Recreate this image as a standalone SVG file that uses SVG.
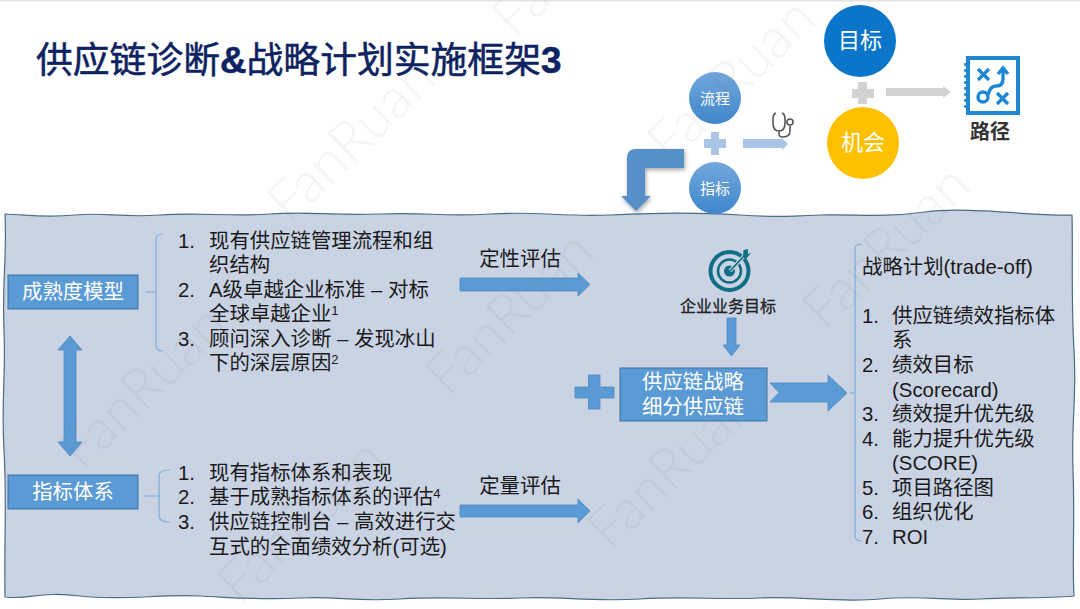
<svg xmlns="http://www.w3.org/2000/svg" width="1080" height="609" viewBox="0 0 1080 609">
<style>
text{font-family:"Liberation Sans","Noto Sans CJK SC",sans-serif}
.l{font-size:20.400px;fill:#1a1a1a}
.w{font-size:20.400px;fill:#fff;text-anchor:middle}
.c{text-anchor:middle}
.box{fill:#5b9bd5;stroke:#41719c;stroke-width:1}
.ar{fill:#5b9bd5;stroke:#4f88bd;stroke-width:.8}
.br{fill:none;stroke:#7eaedb;stroke-width:1.2}
.wm{font-family:"Lato","Liberation Sans",sans-serif;font-size:56px;font-weight:300;fill:#6e6e6e;fill-opacity:.08}
</style>
<defs>
<linearGradient id="cg" x1="0" y1="0" x2="0" y2="1"><stop offset="0" stop-color="#73a7dc"/><stop offset="1" stop-color="#3f87cb"/></linearGradient>
<filter id="sh" x="-20%" y="-20%" width="140%" height="140%"><feGaussianBlur in="SourceAlpha" stdDeviation="2"/><feOffset dx="1" dy="2"/><feComponentTransfer><feFuncA type="linear" slope=".35"/></feComponentTransfer><feMerge><feMergeNode/><feMergeNode in="SourceGraphic"/></feMerge></filter>
</defs>
<rect width="1080" height="609" fill="#fff"/>
<rect width="1080" height="1.500" fill="#e4e4e4"/>
<g id="panel">
<path d="M5 214C30 215 45 218 75 215S120 218 160 215 230 217 270 214 330 216 380 214 440 217 490 214 560 217 610 215 690 212 740 215 780 216 820 215 880 218 925 212 1040 217 1072 215C1073 250 1071 300 1074 350S1071 420 1073 470 1072 560 1074 596C1040 599 1010 597 980 599S920 595 880 599 800 596 760 598 690 596 640 599 560 596 520 598 450 596 400 599 340 596 300 598 240 598 200 596 120 601 80 596 30 600 5 597C4 540 7 500 4 450S6 380 4 330 7 260 5 214Z" fill="#c9d3e4" stroke="#4c6b86" stroke-width="1.200" stroke-linejoin="round"/>
</g>
<text id="title" x="36" y="73" fill="#0d2260" stroke="#0d2260" stroke-width=".5" style="font-size:36.800px">供应链诊断<tspan font-weight="700">&amp;</tspan>战略计划实施框架<tspan font-weight="700">3</tspan></text>
<g id="connectors">
<path class="ar" d="M70 336L82 350H76V442H82L70 456 58 442H64V350H58Z"/>
<path class="ar" d="M460 278H578V273L590 284.500 578 296V291H460Z"/>
<path class="ar" d="M460 505H578V499L590 511 578 523V517H460Z"/>
<path class="ar" d="M727 318H736V345H740L731.500 356 723 345H727Z"/>
<path class="ar" d="M770 383H828V375L847 393 828 411V402H770L779 392.500Z"/>
<path class="br" d="M145 292H155M163 234Q156 234 156 240V345Q156 351 163 351"/>
<path class="br" d="M145 496H158M170 470Q159 470 159 476V516Q159 522 170 522"/>
<path class="br" d="M850 393H855M862 244Q855 244 855 249V536Q855 541 862 541"/>
<path fill="#d2d2d2" d="M886 88H943V86L951 92 943 98V96H886Z"/>
<path fill="#aac4e6" d="M743 139H782V138L788 144 782 150V148H743Z"/>
<path fill="#5590c8" filter="url(#sh)" d="M684 149V168H645V196H651L636 211 621 196H627V158Q627 149 636 149Z"/>
</g>
<g id="n-maturity"><rect class="box" x="8" y="275" width="130" height="34"/><text class="w" x="73" y="299">成熟度模型</text></g>
<g id="n-metrics"><rect class="box" x="8" y="475" width="130" height="34"/><text class="w" x="73" y="499">指标体系</text></g>
<g id="list-1">
<text class="l" x="178" y="248">1.</text><text class="l" x="209" y="248">现有供应链管理流程和组</text>
<text class="l" x="209" y="272">织结构</text>
<text class="l" x="178" y="297">2.</text><text class="l" x="209" y="297">A级卓越企业标准 – 对标</text>
<text class="l" x="209" y="321">全球卓越企业<tspan font-size="13" dy="-6">1</tspan></text>
<text class="l" x="178" y="346">3.</text><text class="l" x="209" y="346">顾问深入诊断 – 发现冰山</text>
<text class="l" x="209" y="370">下的深层原因<tspan font-size="13" dy="-6">2</tspan></text>
</g>
<g id="list-2">
<text class="l" x="178" y="480">1.</text><text class="l" x="209" y="480">现有指标体系和表现</text>
<text class="l" x="178" y="504">2.</text><text class="l" x="209" y="504">基于成熟指标体系的评估<tspan font-size="13" dy="-6">4</tspan></text>
<text class="l" x="178" y="529">3.</text><text class="l" x="209" y="529">供应链控制台 – 高效进行交</text>
<text class="l" x="209" y="554">互式的全面绩效分析(可选)</text>
</g>
<text id="lbl-qual" class="l c" x="520" y="266">定性评估</text>
<text id="lbl-quant" class="l c" x="520" y="493">定量评估</text>
<g id="n-target">
<circle cx="729.500" cy="271" r="19" fill="none" stroke="#0f6d84" stroke-width="4"/>
<circle cx="729.500" cy="271" r="11.500" fill="none" stroke="#0f6d84" stroke-width="2.500"/>
<circle cx="729.500" cy="271" r="5.500" fill="#0f6d84"/>
<path d="M730 271L744 256" stroke="#c9d3e4" stroke-width="4"/>
<path d="M730 271L744 256" stroke="#0f6d84" stroke-width="1.800"/>
<path d="M743 257L743.500 250 748 249 748 254 751 253 746 259Z" fill="#0f6d84"/>
<text class="c" x="728" y="312" fill="#222" stroke="#222" stroke-width=".3" style="font-size:16px">企业业务目标</text>
</g>
<g id="n-strategy"><rect class="box" x="620" y="368" width="147" height="53"/><text class="w" x="693" y="389">供应链战略</text><text class="w" x="693" y="414">细分供应链</text></g>
<path id="plus-blue" class="ar" d="M588.500 375H600V387H614V398H600V409H588.500V398H575V387H588.500Z"/>
<g id="list-3">
<text class="l" x="862" y="274">战略计划(trade-off)</text>
<text class="l" x="862" y="323">1.</text><text class="l" x="892" y="323">供应链绩效指标体</text>
<text class="l" x="892" y="347">系</text>
<text class="l" x="862" y="372">2.</text><text class="l" x="892" y="372">绩效目标</text>
<text class="l" x="892" y="397">(Scorecard)</text>
<text class="l" x="862" y="421">3.</text><text class="l" x="892" y="421">绩效提升优先级</text>
<text class="l" x="862" y="446">4.</text><text class="l" x="892" y="446">能力提升优先级</text>
<text class="l" x="892" y="470">(SCORE)</text>
<text class="l" x="862" y="495">5.</text><text class="l" x="892" y="495">项目路径图</text>
<text class="l" x="862" y="519">6.</text><text class="l" x="892" y="519">组织优化</text>
<text class="l" x="862" y="544">7.</text><text class="l" x="892" y="544">ROI</text>
</g>
<g id="n-process"><circle cx="715" cy="98" r="26" fill="url(#cg)"/><text class="c" x="715" y="104" fill="#fff" style="font-size:15px">流程</text></g>
<g id="n-index"><circle cx="715" cy="188" r="26" fill="url(#cg)"/><text class="c" x="715" y="194" fill="#fff" style="font-size:15px">指标</text></g>
<path id="plus-light" fill="#aac4e6" d="M711 132H719V139H726V148H719V155H711V148H704V139H711Z"/>
<g id="stethoscope" fill="none" stroke="#555" stroke-width="1.600">
<path d="M776 113Q773 114 773 119V123Q773 131 779 131 785 131 785 123V119Q785 114 782 113"/>
<path d="M779 131V134Q779 137 783 137 790 137 790 131V126"/>
<circle cx="790" cy="122" r="3"/>
</g>
<g id="n-goal"><circle cx="860" cy="41" r="36" fill="#0b76c9"/><text class="c" x="860" y="48" fill="#fff" style="font-size:22px">目标</text></g>
<g id="n-chance"><circle cx="863" cy="143" r="36" fill="#ffc000"/><text class="c" x="863" y="150" fill="#fff" style="font-size:22px">机会</text></g>
<path id="plus-gray" fill="#d2d2d2" d="M858 82H867V89H874V98H867V104H858V98H852V89H858Z"/>
<g id="n-path">
<rect x="968" y="58" width="50" height="55" fill="#fff" stroke="#1e88d2" stroke-width="4"/>
<path d="M966 63v3M966 69v3M966 75v3M966 81v3M966 87v3M966 93v3M966 99v3M966 105v3" stroke="#1e88d2" stroke-width="3.500" fill="none"/>
<g fill="none" stroke="#1e88d2" stroke-width="3.400">
<path d="M978 69L989 80M989 69L978 80M997 93L1008 104M1008 93L997 104"/>
<circle cx="983" cy="97" r="5"/>
<path d="M988 95Q990 86 996 86 1003 86 1003 79V69M998 74L1003 68 1008 74"/>
</g>
<text class="c" x="990" y="139" fill="#333" style="font-size:20px;font-weight:700">路径</text>
</g>
<g id="watermarks">
<text class="wm" transform="translate(82 472) rotate(-44)">FanRuan</text>
<text class="wm" transform="translate(290 225) rotate(-44)">FanRuan</text>
<text class="wm" transform="translate(448 398) rotate(-44)">FanRuan</text>
<text class="wm" transform="translate(240 606) rotate(-44)">FanRuan</text>
<text class="wm" transform="translate(610 552) rotate(-44)">FanRuan</text>
<text class="wm" transform="translate(670 165) rotate(-44)">FanRuan</text>
<text class="wm" transform="translate(825 332) rotate(-44)">FanRuan</text>
<text class="wm" transform="translate(515 40) rotate(-44)">Fan</text>
</g>
</svg>
